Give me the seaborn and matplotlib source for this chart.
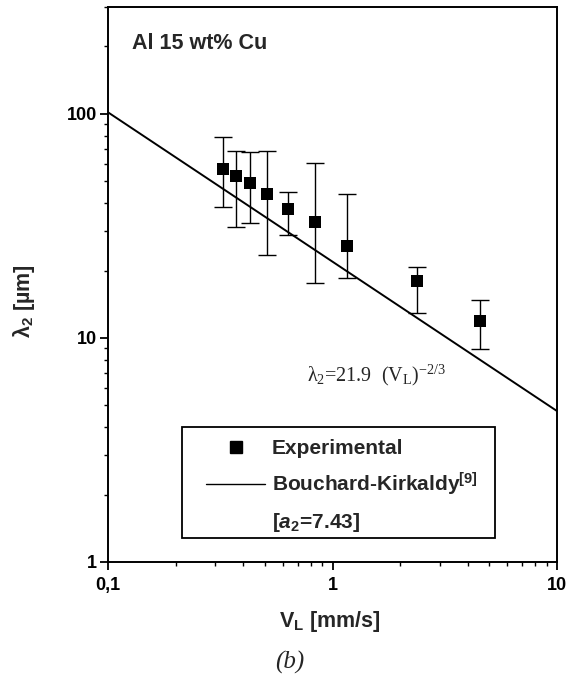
import numpy as np
import pandas as pd
import matplotlib
matplotlib.use("Agg")
import matplotlib.pyplot as plt
from matplotlib.lines import Line2D
from matplotlib.patches import Rectangle
from matplotlib.ticker import FixedLocator, LogLocator, FixedFormatter, NullFormatter
import seaborn as sns

# Secondary dendrite arm spacing vs. growth velocity, Al 15 wt% Cu
velocity = [0.324, 0.372, 0.430, 0.509, 0.634, 0.834, 1.163, 2.39, 4.56]      # V_L [mm/s]
spacing = [56.8, 52.9, 49.0, 43.8, 37.8, 33.0, 25.8, 17.9, 11.95]             # lambda_2 [um]
spacing_hi = [79.2, 68.2, 67.5, 68.6, 44.7, 60.6, 43.8, 20.8, 14.8]
spacing_lo = [38.6, 31.3, 32.7, 23.5, 28.8, 17.5, 18.6, 12.9, 8.9]

# Bouchard-Kirkaldy fit: lambda_2 = 21.9 * V_L^(-2/3)
fit_coef = 21.9
fit_exp = -2.0 / 3.0
fit_range = [0.1, 10.0]

x_ticks = [0.1, 1, 10]
x_ticklabels = ["0,1", "1", "10"]
y_ticks = [1, 10, 100]
y_ticklabels = ["1", "10", "100"]

sns.set_theme(style="ticks")

SANS = "Liberation Sans"
SERIF = ["Liberation Serif", "DejaVu Serif"]
plt.rcParams["font.family"] = [SANS, "DejaVu Sans"]
plt.rcParams["font.weight"] = "bold"
plt.rcParams["mathtext.fontset"] = "custom"
plt.rcParams["mathtext.rm"] = f"{SANS}:bold"
plt.rcParams["mathtext.bf"] = f"{SANS}:bold"
plt.rcParams["mathtext.it"] = f"{SANS}:italic:bold"

df = pd.DataFrame({"V": velocity, "lam": spacing})
fit = pd.DataFrame({"V": fit_range,
                    "lam": [fit_coef * v ** fit_exp for v in fit_range]})

fig = plt.figure(figsize=(5.68, 6.75), dpi=100)
ax = fig.add_axes([108 / 568, 1 - 562 / 675, 449 / 568, 555 / 675])
ax.set_xscale("log")
ax.set_yscale("log")

lo = np.array(spacing) - np.array(spacing_lo)
hi = np.array(spacing_hi) - np.array(spacing)
ax.errorbar(velocity, spacing, yerr=[lo, hi], fmt="none", ecolor="black",
            elinewidth=1.0, capsize=6.5, capthick=1.0, zorder=2)
sns.lineplot(data=fit, x="V", y="lam", color="black", linewidth=1.4, ax=ax,
             zorder=2, legend=False)
sns.scatterplot(data=df, x="V", y="lam", marker="s", s=70, color="black",
                edgecolor="black", linewidth=0, ax=ax, zorder=3, legend=False)

ax.set_xlim(0.1, 10)
ax.set_ylim(1, 300)

ax.xaxis.set_major_locator(FixedLocator(x_ticks))
ax.xaxis.set_major_formatter(FixedFormatter(x_ticklabels))
ax.yaxis.set_major_locator(FixedLocator(y_ticks))
ax.yaxis.set_major_formatter(FixedFormatter(y_ticklabels))
ax.xaxis.set_minor_locator(LogLocator(base=10, subs=np.arange(2, 10)))
ax.yaxis.set_minor_locator(LogLocator(base=10, subs=np.arange(2, 10)))
ax.xaxis.set_minor_formatter(NullFormatter())
ax.yaxis.set_minor_formatter(NullFormatter())

ax.tick_params(which="both", direction="out", top=False, right=False,
               color="black", labelcolor="black")
ax.tick_params(which="major", length=5.8, width=1.3, labelsize=13)
ax.tick_params(axis="x", which="major", pad=5)
ax.tick_params(axis="y", which="major", pad=2)
ax.tick_params(which="minor", length=3.0, width=1.0)
for t in ax.get_xticklabels() + ax.get_yticklabels():
    t.set_fontweight("bold")

for s in ax.spines.values():
    s.set_visible(True)
    s.set_color("black")
    s.set_linewidth(1.4)
ax.set_facecolor("white")
ax.grid(False)

ax.set_xlabel(r"V$\mathregular{_L}$ [mm/s]", fontsize=15.5, fontweight="bold")
ax.set_ylabel(r"λ$\mathregular{_2}$ [µm]", fontsize=15.5, fontweight="bold")
ax.xaxis.set_label_coords(0.494, -0.085)
ax.yaxis.set_label_coords(-0.158, 0.47)

ax.text(0.0535, 0.935, "Al 15 wt% Cu", transform=ax.transAxes, ha="left",
        va="center", fontsize=15.5, fontweight="bold")

ax.text(0.443, 0.337, r"λ$\mathregular{_2}$=21.9  (V$\mathregular{_L}$)$\mathregular{^{-2/3}}$",
        transform=ax.transAxes, ha="left", va="center", fontsize=14.5,
        family=SERIF, fontweight="normal")

# legend box
x0, y0 = ax.transAxes.inverted().transform(fig.transFigure.transform((182 / 568, 1 - 538 / 675)))
x1, y1 = ax.transAxes.inverted().transform(fig.transFigure.transform((495 / 568, 1 - 427 / 675)))
ax.add_patch(Rectangle((x0, y0), x1 - x0, y1 - y0, transform=ax.transAxes,
                       facecolor="white", edgecolor="black", linewidth=1.3, zorder=4))

handles = [
    Line2D([], [], linestyle="none", marker="s", markersize=8, color="black"),
    Line2D([], [], color="black", linewidth=1.0),
    Line2D([], [], linestyle="none"),
]
labels = ["Experimental",
          r"Bouchard-Kirkaldy$\mathregular{^{[9]}}$",
          r"[$\it{a}\mathregular{_2}$=7.43]"]
lx, ly = ax.transAxes.inverted().transform(fig.transFigure.transform((206 / 568, 1 - 439 / 675)))
leg = ax.legend(handles, labels, loc="upper left", bbox_to_anchor=(lx, ly),
                frameon=False, borderpad=0, borderaxespad=0,
                handlelength=2.85, handletextpad=0.3, labelspacing=0.62,
                prop={"family": [SANS, "DejaVu Sans"], "weight": "bold", "size": 15})
leg.set_zorder(5)

fig.text(290 / 568, 1 - 662 / 675, "(b)", ha="center", va="center", fontsize=18,
         family=SERIF, style="italic", fontweight="normal")

fig.savefig("out.png", dpi=100, facecolor="white")
